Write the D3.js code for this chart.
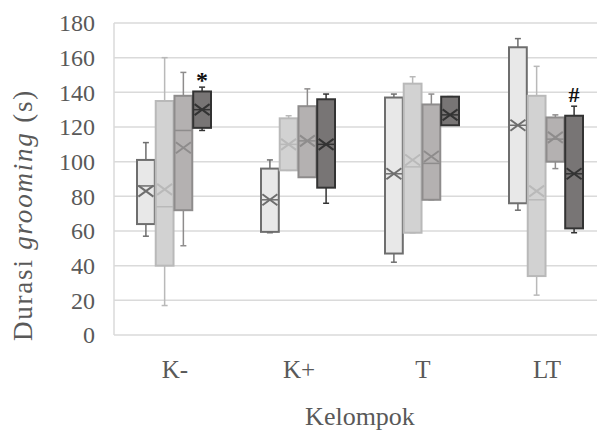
<!DOCTYPE html>
<html>
<head>
<meta charset="utf-8">
<script src="https://cdn.jsdelivr.net/npm/d3@7"></script>
<style>
  body { margin: 0; background: #fff; }
  text { font-family: "Liberation Serif", "Times New Roman", serif; fill: #595959; }
</style>
</head>
<body>
<div id="chart"></div>
<script>
// groups on the x axis
const groups = ["K-", "K+", "T", "LT"];
const yTicks = [0, 20, 40, 60, 80, 100, 120, 140, 160, 180];

// one array per series, one entry per group (min, q1, median, q3, max, mean)
const series1 = [
  { min: 57, q1: 64, med: 86, q3: 101, max: 111, mean: 83 },
  { min: 59, q1: 59.5, med: 78, q3: 96, max: 101, mean: 78 },
  { min: 42, q1: 47, med: 93, q3: 137, max: 139, mean: 93 },
  { min: 72, q1: 76, med: 121, q3: 166, max: 171, mean: 121 }
];
const series2 = [
  { min: 17, q1: 40, med: 74, q3: 135, max: 160, mean: 84 },
  { min: 95, q1: 95, med: 110, q3: 125, max: 126.5, mean: 110 },
  { min: 59, q1: 59, med: 97, q3: 145, max: 149, mean: 101 },
  { min: 23, q1: 34, med: 78, q3: 138, max: 155, mean: 83 }
];
const series3 = [
  { min: 51.5, q1: 72, med: 118, q3: 138, max: 151.5, mean: 108 },
  { min: 91, q1: 91, med: 112, q3: 132, max: 142, mean: 112 },
  { min: 78, q1: 78, med: 99, q3: 133, max: 139, mean: 103 },
  { min: 96, q1: 100, med: 113, q3: 125.5, max: 127, mean: 114 }
];
const series4 = [
  { min: 118, q1: 119.5, med: 130, q3: 140.5, max: 143, mean: 130 },
  { min: 76, q1: 85, med: 110, q3: 136, max: 139, mean: 110 },
  { min: 121, q1: 121, med: 127, q3: 137.5, max: 137.5, mean: 127 },
  { min: 59, q1: 61.5, med: 93, q3: 126.5, max: 132, mean: 93 }
];
// significance marks: [series index, group index, symbol]
const marks = [[3, 0, "*"], [3, 3, "#"]];

const allSeries = [series1, series2, series3, series4];
const fills = ["#e8e8e8", "#d2d2d2", "#b4b1b1", "#787575"];
const strokes = ["#6e6e6e", "#b9b9b9", "#8e8c8c", "#333333"];

const width = 597, height = 430;

function init() {
  var svg = d3.select("#chart").append("svg")
    .attr("width", width)
    .attr("height", height);

  var y = d3.scaleLinear().domain([0, 180]).range([335, 23]);
  var x = d3.scaleBand().domain(groups).range([112, 608]);
  var xs = d3.scaleBand().domain(d3.range(4)).range([-37, 37]).paddingInner(0.05);
  var bw = xs.bandwidth();

  // grid lines
  svg.append("g").selectAll("line")
    .data(yTicks).enter().append("line")
    .attr("x1", 114).attr("x2", width)
    .attr("y1", d => y(d)).attr("y2", d => y(d))
    .attr("stroke", "#dadada").attr("stroke-width", 1.5);

  // left frame line
  svg.append("line")
    .attr("x1", 114).attr("x2", 114)
    .attr("y1", y(180)).attr("y2", y(0))
    .attr("stroke", "#dadada").attr("stroke-width", 1.5);

  // y tick labels
  svg.append("g").selectAll("text")
    .data(yTicks).enter().append("text")
    .attr("x", 95).attr("y", d => y(d))
    .attr("dy", "0.35em")
    .attr("text-anchor", "end")
    .style("font-size", "24px")
    .text(d => d);

  // group labels
  svg.append("g").selectAll("text")
    .data(groups).enter().append("text")
    .attr("x", d => x(d) + x.bandwidth() / 2 + 1)
    .attr("y", 378)
    .attr("text-anchor", "middle")
    .style("font-size", "25px")
    .text(d => d);

  svg.append("text")
    .attr("x", 360).attr("y", 425)
    .attr("text-anchor", "middle")
    .style("font-size", "26px")
    .text("Kelompok");

  var yt = svg.append("text")
    .attr("transform", "translate(32," + 215 + ") rotate(-90)")
    .attr("text-anchor", "middle")
    .style("font-size", "27px")
    .style("letter-spacing", "1.8px");
  yt.append("tspan").text("Durasi ");
  yt.append("tspan").style("font-style", "italic").text("grooming");
  yt.append("tspan").text(" (s)");

  // boxes
  allSeries.forEach(function (s, si) {
    var g = svg.append("g");
    s.forEach(function (d, gi) {
      var cx = x(groups[gi]) + x.bandwidth() / 2 + xs(si) + bw / 2;
      var x0 = cx - bw / 2;
      var col = strokes[si];
      // whiskers
      g.append("line").attr("x1", cx).attr("x2", cx)
        .attr("y1", y(d.max)).attr("y2", y(d.q3))
        .attr("stroke", col).attr("stroke-width", 1.5);
      g.append("line").attr("x1", cx).attr("x2", cx)
        .attr("y1", y(d.q1)).attr("y2", y(d.min))
        .attr("stroke", col).attr("stroke-width", 1.5);
      [d.max, d.min].forEach(function (v) {
        g.append("line").attr("x1", cx - 3).attr("x2", cx + 3)
          .attr("y1", y(v)).attr("y2", y(v))
          .attr("stroke", col).attr("stroke-width", 1.5);
      });
      // box
      g.append("rect")
        .attr("x", x0).attr("width", bw)
        .attr("y", y(d.q3)).attr("height", y(d.q1) - y(d.q3))
        .attr("fill", fills[si])
        .attr("stroke", col).attr("stroke-width", 2);
      // median
      g.append("line").attr("x1", x0).attr("x2", x0 + bw)
        .attr("y1", y(d.med)).attr("y2", y(d.med))
        .attr("stroke", col).attr("stroke-width", 1.5);
      // mean marker (x)
      var my = y(d.mean);
      g.append("path")
        .attr("d", "M" + (cx - 7.5) + "," + (my - 5.5) + "L" + (cx + 7.5) + "," + (my + 5.5) +
          "M" + (cx - 7.5) + "," + (my + 5.5) + "L" + (cx + 7.5) + "," + (my - 5.5))
        .attr("fill", "none")
        .attr("stroke", col).attr("stroke-width", 2);
    });
  });

  // significance marks
  svg.append("g").selectAll("text")
    .data(marks).enter().append("text")
    .attr("x", d => x(groups[d[1]]) + x.bandwidth() / 2 + xs(d[0]) + bw / 2)
    .attr("y", d => y(allSeries[d[0]][d[1]].max) - (d[2] === "*" ? -1 : 4))
    .attr("text-anchor", "middle")
    .style("fill", "#111")
    .style("font-weight", "bold")
    .style("font-size", d => d[2] === "*" ? "24px" : "22px")
    .text(d => d[2]);
}

init();
</script>
</body>
</html>
